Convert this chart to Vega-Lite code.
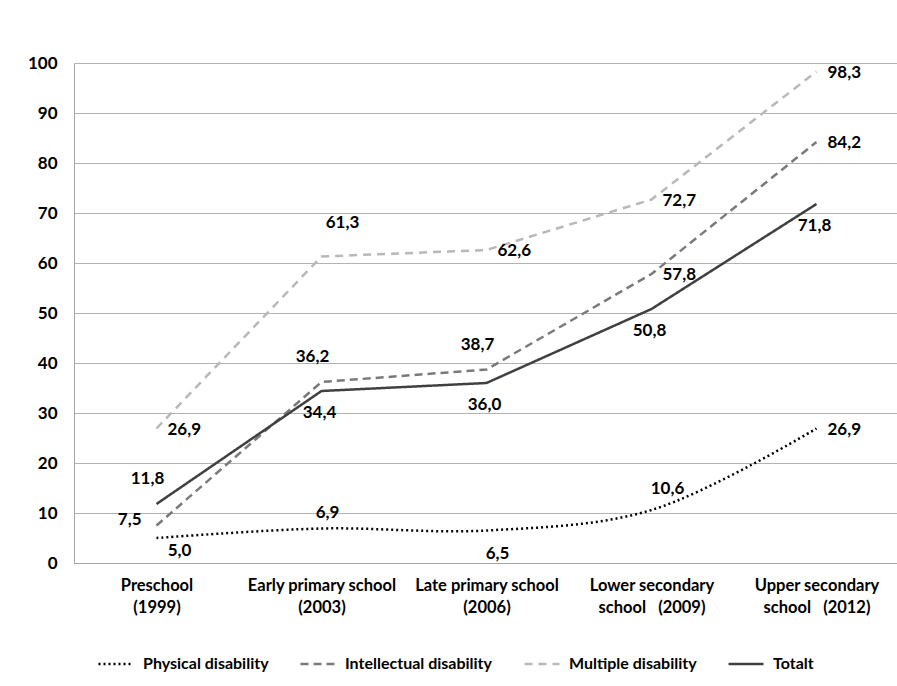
{
  "$schema": "https://vega.github.io/schema/vega-lite/v6.json",
  "width": 825,
  "height": 500,
  "autosize": "none",
  "padding": {"left": 74, "top": 63, "right": 0, "bottom": 123},
  "background": "white",
  "config": {
    "locale": {"number": {"decimal": ",", "thousands": ".", "grouping": [3], "currency": ["", ""]}},
    "view": {"stroke": null},
    "font": "Lato",
    "text": {"font": "Lato", "fontWeight": "bold", "fontSize": 17, "baseline": "middle", "color": "#000000"}
  },
  "data": {
    "values": [
      {"stage": "Preschool|(1999)", "year": 1999, "series": "Physical disability", "value": 5.0},
      {"stage": "Early primary school|(2003)", "year": 2003, "series": "Physical disability", "value": 6.9},
      {"stage": "Late primary school|(2006)", "year": 2006, "series": "Physical disability", "value": 6.5},
      {"stage": "Lower secondary|school\u00a0\u00a0\u00a0(2009)", "year": 2009, "series": "Physical disability", "value": 10.6},
      {"stage": "Upper secondary|school\u00a0\u00a0\u00a0(2012)", "year": 2012, "series": "Physical disability", "value": 26.9},
      {"stage": "Preschool|(1999)", "year": 1999, "series": "Intellectual disability", "value": 7.5},
      {"stage": "Early primary school|(2003)", "year": 2003, "series": "Intellectual disability", "value": 36.2},
      {"stage": "Late primary school|(2006)", "year": 2006, "series": "Intellectual disability", "value": 38.7},
      {"stage": "Lower secondary|school\u00a0\u00a0\u00a0(2009)", "year": 2009, "series": "Intellectual disability", "value": 57.8},
      {"stage": "Upper secondary|school\u00a0\u00a0\u00a0(2012)", "year": 2012, "series": "Intellectual disability", "value": 84.2},
      {"stage": "Preschool|(1999)", "year": 1999, "series": "Multiple disability", "value": 26.9},
      {"stage": "Early primary school|(2003)", "year": 2003, "series": "Multiple disability", "value": 61.3},
      {"stage": "Late primary school|(2006)", "year": 2006, "series": "Multiple disability", "value": 62.6},
      {"stage": "Lower secondary|school\u00a0\u00a0\u00a0(2009)", "year": 2009, "series": "Multiple disability", "value": 72.7},
      {"stage": "Upper secondary|school\u00a0\u00a0\u00a0(2012)", "year": 2012, "series": "Multiple disability", "value": 98.3},
      {"stage": "Preschool|(1999)", "year": 1999, "series": "Totalt", "value": 11.8},
      {"stage": "Early primary school|(2003)", "year": 2003, "series": "Totalt", "value": 34.4},
      {"stage": "Late primary school|(2006)", "year": 2006, "series": "Totalt", "value": 36.0},
      {"stage": "Lower secondary|school\u00a0\u00a0\u00a0(2009)", "year": 2009, "series": "Totalt", "value": 50.8},
      {"stage": "Upper secondary|school\u00a0\u00a0\u00a0(2012)", "year": 2012, "series": "Totalt", "value": 71.8}
    ]
  },
  "encoding": {
    "x": {
      "field": "stage", "type": "nominal",
      "sort": ["Preschool|(1999)", "Early primary school|(2003)", "Late primary school|(2006)", "Lower secondary|school\u00a0\u00a0\u00a0(2009)", "Upper secondary|school\u00a0\u00a0\u00a0(2012)"],
      "scale": {"type": "point", "padding": 0.5},
      "axis": {
        "title": null, "labelAngle": 0, "labelExpr": "split(datum.label, '|')",
        "ticks": false, "grid": false, "domainColor": "#a6a6a6", "domainWidth": 1,
        "labelFont": "Lato", "labelFontWeight": "bold", "labelFontSize": 16.5, "labelColor": "#000000",
        "labelPadding": 14, "labelLineHeight": 22, "labelBaseline": "top"
      }
    },
    "y": {
      "field": "value", "type": "quantitative",
      "scale": {"domain": [0, 100], "nice": false},
      "axis": {
        "title": null, "values": [0, 10, 20, 30, 40, 50, 60, 70, 80, 90, 100],
        "ticks": false, "domainColor": "#a6a6a6", "gridColor": "#b3b3b3", "gridWidth": 1,
        "labelPadding": 17, "labelFont": "Lato", "labelFontWeight": "bold", "labelFontSize": 17, "labelColor": "#000000"
      }
    }
  },
  "layer": [
    {
      "transform": [{"filter": "datum.series != 'Physical disability'"}],
      "mark": {"type": "line", "strokeWidth": 2.5},
      "encoding": {
        "color": {
          "field": "series", "type": "nominal",
          "scale": {"domain": ["Physical disability", "Intellectual disability", "Multiple disability", "Totalt"], "range": ["#000000", "#7a7a7a", "#b8b8b8", "#404040"]},
          "legend": {"title": null, "orient": "none", "legendX": 23, "legendY": 582, "direction": "horizontal", "symbolType": "stroke", "symbolSize": 1225, "symbolStrokeWidth": 2.5, "labelFont": "Lato", "labelFontSize": 16, "labelFontWeight": "bold", "labelColor": "#000000", "columnPadding": 26, "labelOffset": 8}
        },
        "strokeDash": {
          "field": "series", "type": "nominal",
          "scale": {"domain": ["Physical disability", "Intellectual disability", "Multiple disability", "Totalt"], "range": [[2, 3], [8, 5], [8, 6], [1, 0]]},
          "legend": {"title": null, "orient": "none", "legendX": 23, "legendY": 582, "direction": "horizontal", "symbolType": "stroke", "symbolSize": 1225, "symbolStrokeWidth": 2.5, "labelFont": "Lato", "labelFontSize": 16, "labelFontWeight": "bold", "labelColor": "#000000", "columnPadding": 26, "labelOffset": 8}
        }
      }
    },
    {
      "transform": [{"filter": "datum.series == 'Physical disability'"}],
      "mark": {"type": "line", "strokeWidth": 2.5, "interpolate": "catmull-rom"},
      "encoding": {
        "color": {"field": "series", "type": "nominal"},
        "strokeDash": {"field": "series", "type": "nominal"}
      }
    },
    {
      "transform": [{"filter": "(datum.series == 'Multiple disability' && datum.year != 2003) || (datum.series == 'Intellectual disability' && datum.year >= 2009) || (datum.series == 'Physical disability' && datum.year == 2012)"}],
      "mark": {"type": "text", "align": "left", "dx": 11, "dy": 1},
      "encoding": {"text": {"field": "value", "type": "quantitative", "format": ".1f"}}
    },
    {
      "transform": [{"filter": "datum.series == 'Totalt' && datum.year >= 2003"}],
      "mark": {"type": "text", "align": "center", "dx": -2, "dy": 22},
      "encoding": {"text": {"field": "value", "type": "quantitative", "format": ".1f"}}
    },
    {
      "transform": [{"filter": "datum.series == 'Physical disability' && datum.year == 2006"}],
      "mark": {"type": "text", "align": "center", "dx": 11, "dy": 23},
      "encoding": {"text": {"field": "value", "type": "quantitative", "format": ".1f"}}
    },
    {
      "transform": [{"filter": "datum.series == 'Physical disability' && datum.year == 1999"}],
      "mark": {"type": "text", "align": "center", "dx": 23, "dy": 13},
      "encoding": {"text": {"field": "value", "type": "quantitative", "format": ".1f"}}
    },
    {
      "transform": [{"filter": "(datum.series == 'Intellectual disability' && (datum.year == 2003 || datum.year == 2006)) || (datum.series == 'Totalt' && datum.year == 1999)"}],
      "mark": {"type": "text", "align": "center", "dx": -9, "dy": -25},
      "encoding": {"text": {"field": "value", "type": "quantitative", "format": ".1f"}}
    },
    {
      "transform": [{"filter": "datum.series == 'Physical disability' && datum.year == 2003"}],
      "mark": {"type": "text", "align": "center", "dx": 6, "dy": -16},
      "encoding": {"text": {"field": "value", "type": "quantitative", "format": ".1f"}}
    },
    {
      "transform": [{"filter": "datum.series == 'Physical disability' && datum.year == 2009"}],
      "mark": {"type": "text", "align": "center", "dx": 16, "dy": -21},
      "encoding": {"text": {"field": "value", "type": "quantitative", "format": ".1f"}}
    },
    {
      "transform": [{"filter": "datum.series == 'Multiple disability' && datum.year == 2003"}],
      "mark": {"type": "text", "align": "center", "dx": 21, "dy": -34},
      "encoding": {"text": {"field": "value", "type": "quantitative", "format": ".1f"}}
    },
    {
      "transform": [{"filter": "datum.series == 'Intellectual disability' && datum.year == 1999"}],
      "mark": {"type": "text", "align": "right", "dx": -15, "dy": -6},
      "encoding": {"text": {"field": "value", "type": "quantitative", "format": ".1f"}}
    }
  ]
}
